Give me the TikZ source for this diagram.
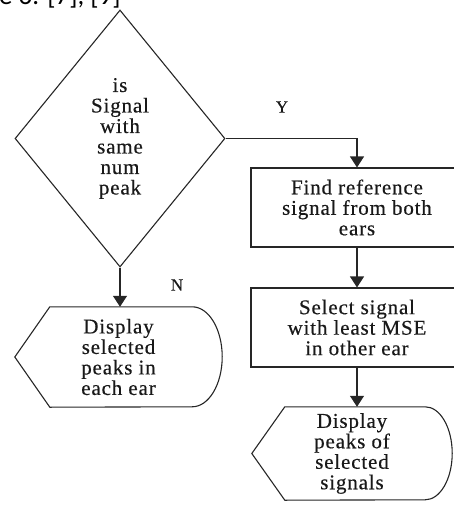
\documentclass[tikz,border=0pt]{standalone}
\usepackage{fontspec}
\setmainfont{Liberation Serif}[LetterSpace=4,FakeBold=0.4]
\newfontfamily\capfont{Carlito}
\usetikzlibrary{shapes.geometric,arrows.meta}
\begin{document}
\begin{tikzpicture}[x=1pt,y=-1pt,
  line/.style={draw=black!85,line width=1.1pt},
  flow/.style={line,-{Triangle[width=14pt,length=11pt]}},
  txt/.style={font=\fontsize{21}{20.5}\selectfont,align=center,text=black!90},
  decision/.style={diamond,line,txt,minimum width=210pt,minimum height=257pt,inner sep=0pt},
  procbox/.style={rectangle,line,txt,minimum width=212pt,minimum height=79pt,inner sep=0pt},
  disp/.style={rectangle,txt,inner sep=0pt},
  lbl/.style={font=\fontsize{17}{17}\selectfont,inner sep=0pt,text=black!90}]
\useasboundingbox (0,0) rectangle (454,505);

% caption line of the page above, cut by the frame
\begin{scope}
  \clip (0,0) rectangle (454,505);
  \node[anchor=base west,inner sep=0pt,font=\capfont\fontsize{27}{27}\selectfont] (cap) at (-1,5) {e 6. [7], [9]};
\end{scope}

% decision
\node[decision] (dec) at (120,138.5) {is\\Signal\\with\\same\\num\\peak};

% process boxes
\node[procbox] (find) at (357,207.5) {Find reference\\signal from both\\ears};
\node[procbox] (sel) at (357,327.5) {Select signal\\with least MSE\\in other ear};

% display symbols
\node[disp,minimum width=207pt,minimum height=100pt] (d1) at (118.5,357) {Display\\selected\\peaks in\\each ear};
\draw[line] (d1.west) -- ([xshift=35pt]d1.north west) -- ([xshift=-30pt]d1.north east)
  arc[start angle=90,end angle=-90,x radius=30pt,y radius=50pt]
  -- ([xshift=35pt]d1.south west) -- cycle;

\node[disp,minimum width=200pt,minimum height=93pt] (d2) at (352,453.5) {Display\\peaks of\\selected\\signals};
\draw[line] (d2.west) -- ([xshift=33pt]d2.north west) -- ([xshift=-27pt]d2.north east)
  arc[start angle=90,end angle=-90,x radius=27pt,y radius=46.5pt]
  -- ([xshift=33pt]d2.south west) -- cycle;

% connectors
\draw[flow] (dec.east) -| (find.north);
\draw[flow] (find) -- (sel);
\draw[flow] (sel.south) -- (sel.south |- d2.north);
\draw[flow] (dec.south) -- (dec.south |- d1.north);

% branch labels
\node[lbl] (ylab) at (282,107) {Y};
\node[lbl] (nlab) at (177,285) {N};
\end{tikzpicture}
\end{document}
